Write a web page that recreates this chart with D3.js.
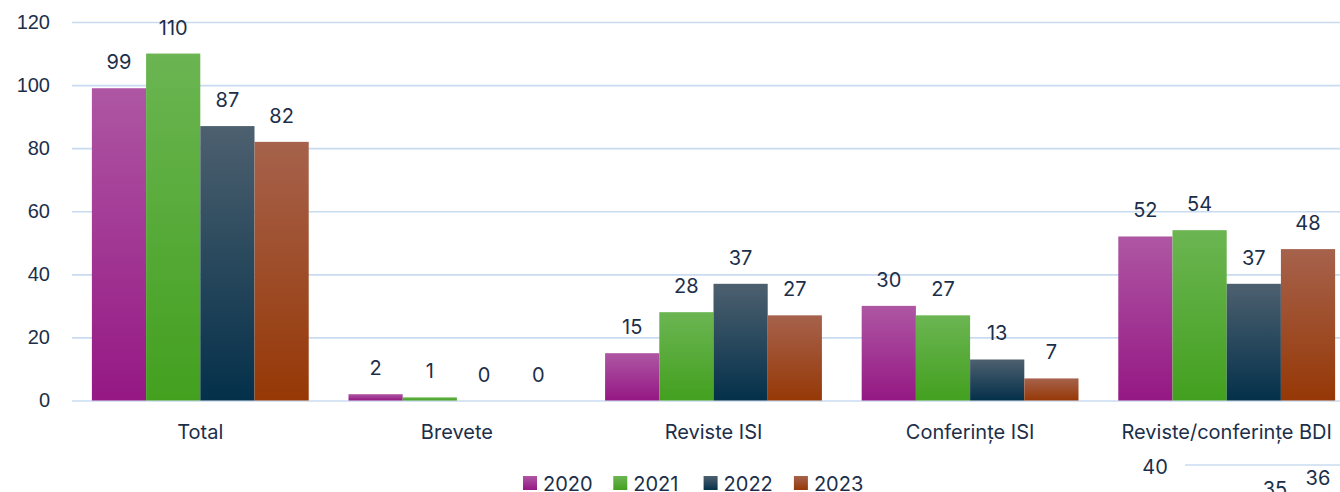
<!DOCTYPE html>
<html>
<head>
<meta charset="utf-8">
<script src="https://cdn.jsdelivr.net/npm/d3@7"></script>
<style>
  body { margin: 0; background: #fff; }
  svg { display: block; font-family: Inter, "Open Sans", sans-serif; }
  .lbl { fill: #1c2f4a; }
</style>
</head>
<body>
<svg id="chart"></svg>
<script>
const categories = ['Total', 'Brevete', 'Reviste ISI', 'Conferințe ISI', 'Reviste/conferințe BDI'];
const years = ['2020', '2021', '2022', '2023'];
const values2020 = [99, 2, 15, 30, 52];
const values2021 = [110, 1, 28, 27, 54];
const values2022 = [87, 0, 37, 13, 37];
const values2023 = [82, 0, 27, 7, 48];
const yTicks = [0, 20, 40, 60, 80, 100, 120];
// colours: [top, bottom] of each bar gradient
const yearColors = [
  ['#ae56a3', '#951884'],
  ['#6bb552', '#43a01f'],
  ['#4d606f', '#04304a'],
  ['#a6624c', '#963806'],
];

const series = [values2020, values2021, values2022, values2023];

const W = 1340;
const H = 492;
const margin = { top: 22, left: 72, bottom: 92 };
const plotRight = 1355;
const fs = 20;

const svg = d3.select('#chart').attr('width', W).attr('height', H);

const defs = svg.append('defs');
yearColors.forEach((c, i) => {
  const g = defs.append('linearGradient')
    .attr('id', `grad-${i}`)
    .attr('x1', 0).attr('y1', 0).attr('x2', 0).attr('y2', 1);
  g.append('stop').attr('offset', '0%').attr('stop-color', c[0]);
  g.append('stop').attr('offset', '100%').attr('stop-color', c[1]);
});

const y = d3.scaleLinear()
  .domain([0, 120])
  .range([H - margin.bottom + 0.5, margin.top]);

const x0 = d3.scaleBand()
  .domain(categories)
  .range([margin.left, plotRight])
  .paddingInner(0.155)
  .paddingOuter(0.0775);

const x1 = d3.scaleBand()
  .domain(years)
  .range([0, x0.bandwidth()]);

// gridlines + tick labels
const yAxis = svg.append('g')
  .attr('transform', `translate(${margin.left},0)`)
  .call(d3.axisLeft(y).tickValues(yTicks).tickSize(-(W - margin.left)).tickPadding(22));
yAxis.select('.domain').remove();
yAxis.selectAll('.tick line').attr('stroke', '#c8dbf0').attr('stroke-width', 1.6);
yAxis.selectAll('.tick text')
  .attr('class', 'lbl')
  .attr('font-size', fs)
  .attr('fill', '#1c2f4a');

// bars
const groups = svg.append('g').selectAll('g')
  .data(categories)
  .join('g')
  .attr('transform', (d) => `translate(${x0(d)},0)`);

groups.selectAll('rect')
  .data((d, ci) => years.map((yr, si) => ({ yr, si, v: series[si][ci] })))
  .join('rect')
  .attr('x', (d) => x1(d.yr))
  .attr('y', (d) => y(d.v))
  .attr('width', x1.bandwidth())
  .attr('height', (d) => y(0) - y(d.v))
  .attr('fill', (d) => `url(#grad-${d.si})`);

groups.selectAll('text.val')
  .data((d, ci) => years.map((yr, si) => ({ yr, si, v: series[si][ci] })))
  .join('text')
  .attr('class', 'val lbl')
  .attr('x', (d) => x1(d.yr) + x1.bandwidth() / 2)
  .attr('y', (d) => y(d.v) - 19)
  .attr('text-anchor', 'middle')
  .attr('font-size', fs)
  .text((d) => d.v);

// category labels
svg.append('g').selectAll('text')
  .data(categories)
  .join('text')
  .attr('class', 'lbl')
  .attr('x', (d) => x0(d) + x0.bandwidth() / 2)
  .attr('y', 439)
  .attr('text-anchor', 'middle')
  .attr('font-size', fs)
  .text((d) => d);

// legend
const legend = svg.append('g').attr('transform', 'translate(523,476)');
const item = legend.selectAll('g')
  .data(years)
  .join('g')
  .attr('transform', (d, i) => `translate(${i * 90.3},0)`);
item.append('rect')
  .attr('width', 14).attr('height', 14)
  .attr('fill', (d, i) => `url(#grad-${i})`);
item.append('text')
  .attr('class', 'lbl')
  .attr('x', 20)
  .attr('y', 14.5)
  .attr('font-size', fs)
  .text((d) => d);

// fragment of the next chart peeking in at bottom right
const nextTicks = [{ label: '40', x: 1155, y: 474 }];
const nextVals = [{ label: '35', x: 1275, y: 496 }, { label: '36', x: 1318, y: 485 }];
svg.append('line')
  .attr('x1', 1185).attr('x2', W)
  .attr('y1', 465).attr('y2', 465)
  .attr('stroke', '#c8dbf0').attr('stroke-width', 1.6);
svg.append('g').selectAll('text')
  .data(nextTicks.concat(nextVals))
  .join('text')
  .attr('class', 'lbl')
  .attr('x', (d) => d.x)
  .attr('y', (d) => d.y)
  .attr('text-anchor', 'middle')
  .attr('font-size', fs)
  .text((d) => d.label);
</script>
</body>
</html>
